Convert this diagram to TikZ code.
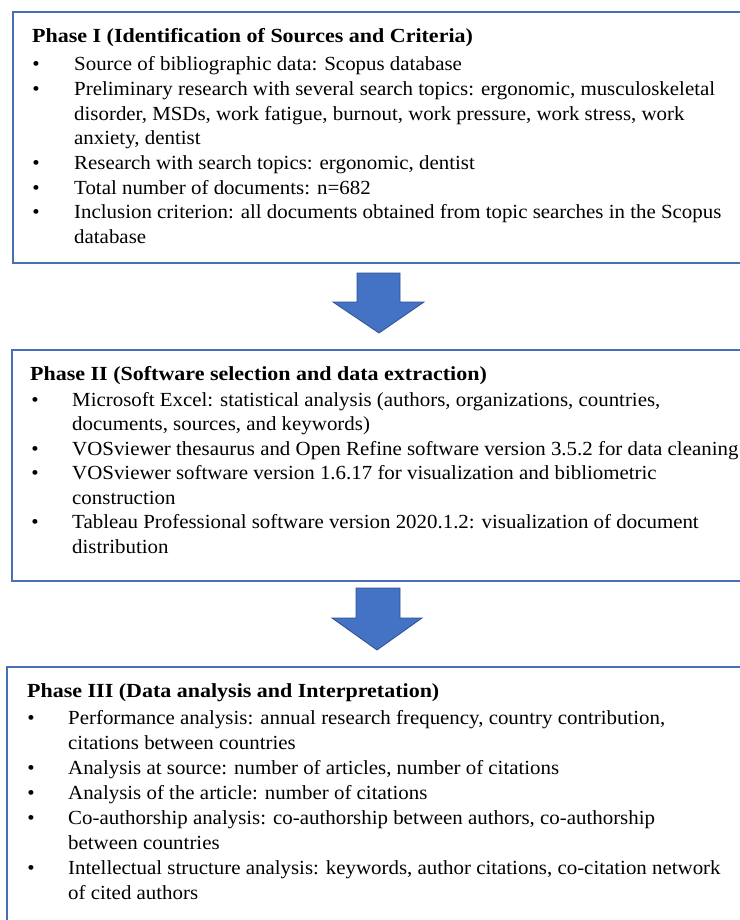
\documentclass[tikz,border=0pt]{standalone}
\usepackage{fontspec}
\setmainfont{Liberation Serif}[FakeStretch=1.045]
\newfontfamily\titlefont{Liberation Serif}[FakeStretch=1.10]
\definecolor{boxblue}{RGB}{72,110,184}
\definecolor{arrowfill}{RGB}{68,114,196}
\definecolor{arrowedge}{RGB}{47,82,143}
\tikzset{
  phasebox/.style={draw=boxblue, line width=2.4pt},
  txt/.style={anchor=base west, inner sep=0pt, font=\fontsize{20}{24}\selectfont},
  ttl/.style={anchor=base west, inner sep=0pt, font=\titlefont\fontsize{20}{24}\selectfont\bfseries},
  bul/.style={anchor=base, inner sep=0pt, font=\fontsize{20}{24}\selectfont},
  blockarrow/.style={fill=arrowfill, draw=arrowedge, line width=0.8pt, line join=miter}
}
\begin{document}
\begin{tikzpicture}[x=1pt,y=-1pt]
\useasboundingbox (0,0) rectangle (739,920);
\fill[white] (0,0) rectangle (739,920);
% boxes
\draw[phasebox] (13,12) rectangle (760,263);
\draw[phasebox] (12,350) rectangle (760,581);
\draw[phasebox] (7,667) rectangle (760,940);
% arrows
\draw[blockarrow] (357,273) -- (400,273) -- (400,302) -- (424,302) -- (379,333) -- (333,302) -- (357,302) -- cycle;
\draw[blockarrow] (356,588) -- (400,588) -- (400,618) -- (422,618) -- (377,650) -- (332,618) -- (356,618) -- cycle;
% Phase I
\node[ttl] (t1) at (32,43) {Phase I (Identification of Sources and Criteria)};
\node[bul] (b11) at (36,71) {•};
\node[txt] (l11) at (74,71) {Source of bibliographic data: Scopus database};
\node[bul] (b12) at (36,95.6) {•};
\node[txt] (l12) at (74,95.6) {Preliminary research with several search topics: ergonomic, musculoskeletal};
\node[txt] (l13) at (74,120.2) {disorder, MSDs, work fatigue, burnout, work pressure, work stress, work};
\node[txt] (l14) at (74,144.8) {anxiety, dentist};
\node[bul] (b15) at (36,169.4) {•};
\node[txt] (l15) at (74,169.4) {Research with search topics: ergonomic, dentist};
\node[bul] (b16) at (36,194) {•};
\node[txt] (l16) at (74,194) {Total number of documents: n=682};
\node[bul] (b17) at (36,218.6) {•};
\node[txt] (l17) at (74,218.6) {Inclusion criterion: all documents obtained from topic searches in the Scopus};
\node[txt] (l18) at (74,243.2) {database};
% Phase II
\node[ttl] (t2) at (30,380) {Phase II (Software selection and data extraction)};
\node[bul] (b21) at (35,406) {•};
\node[txt] (l21) at (72,406) {Microsoft Excel: statistical analysis (authors, organizations, countries,};
\node[txt] (l22) at (72,430) {documents, sources, and keywords)};
\node[bul] (b23) at (35,455) {•};
\node[txt] (l23) at (72,455) {VOSviewer thesaurus and Open Refine software version 3.5.2 for data cleaning};
\node[bul] (b24) at (35,479) {•};
\node[txt] (l24) at (72,479) {VOSviewer software version 1.6.17 for visualization and bibliometric};
\node[txt] (l25) at (72,504) {construction};
\node[bul] (b26) at (35,528) {•};
\node[txt] (l26) at (72,528) {Tableau Professional software version 2020.1.2: visualization of document};
\node[txt] (l27) at (72,553) {distribution};
% Phase III
\node[ttl] (t3) at (27,697) {Phase III (Data analysis and Interpretation)};
\node[bul] (b31) at (31,724) {•};
\node[txt] (l31) at (68,724) {Performance analysis: annual research frequency, country contribution,};
\node[txt] (l32) at (68,749) {citations between countries};
\node[bul] (b33) at (31,774) {•};
\node[txt] (l33) at (68,774) {Analysis at source: number of articles, number of citations};
\node[bul] (b34) at (31,799) {•};
\node[txt] (l34) at (68,799) {Analysis of the article: number of citations};
\node[bul] (b35) at (31,824) {•};
\node[txt] (l35) at (68,824) {Co-authorship analysis: co-authorship between authors, co-authorship};
\node[txt] (l36) at (68,849) {between countries};
\node[bul] (b37) at (31,874) {•};
\node[txt] (l37) at (68,874) {Intellectual structure analysis: keywords, author citations, co-citation network};
\node[txt] (l38) at (68,899) {of cited authors};
\end{tikzpicture}
\end{document}
